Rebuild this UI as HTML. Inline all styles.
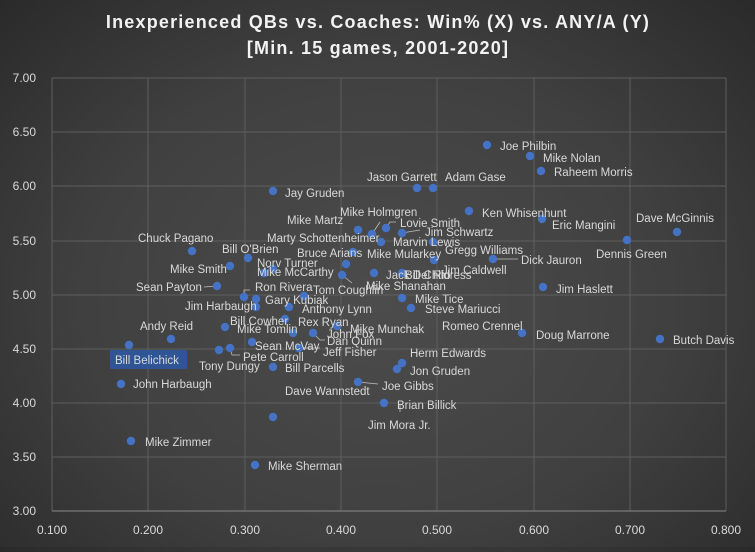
<!DOCTYPE html>
<html><head><meta charset="utf-8"><style>
html,body{margin:0;padding:0;}
body{width:755px;height:547px;overflow:hidden;background:radial-gradient(ellipse at 50% 55%,#4c4c4c 0%,#404040 55%,#2a2a2a 100%);font-family:"Liberation Sans",sans-serif;}
svg text{font-family:"Liberation Sans",sans-serif;}
</style></head><body>
<svg width="755" height="547" xmlns="http://www.w3.org/2000/svg">
<g fill="#f2f2f2" font-weight="bold" font-size="18" text-anchor="middle" letter-spacing="1.2">
<text x="378" y="28">Inexperienced QBs vs. Coaches: Win% (X) vs. ANY/A (Y)</text>
<text x="378" y="54">[Min. 15 games, 2001-2020]</text>
</g>
<g stroke="#5e5e5e" stroke-width="1">
<line x1="52" y1="78" x2="726" y2="78"/><line x1="52" y1="132" x2="726" y2="132"/><line x1="52" y1="186" x2="726" y2="186"/><line x1="52" y1="241" x2="726" y2="241"/><line x1="52" y1="295" x2="726" y2="295"/><line x1="52" y1="349" x2="726" y2="349"/><line x1="52" y1="403" x2="726" y2="403"/><line x1="52" y1="457" x2="726" y2="457"/>
<line x1="52" y1="78" x2="52" y2="511"/><line x1="148" y1="78" x2="148" y2="511"/><line x1="245" y1="78" x2="245" y2="511"/><line x1="341" y1="78" x2="341" y2="511"/><line x1="437" y1="78" x2="437" y2="511"/><line x1="534" y1="78" x2="534" y2="511"/><line x1="630" y1="78" x2="630" y2="511"/><line x1="726" y1="78" x2="726" y2="511"/>
</g>
<line x1="52" y1="511" x2="726" y2="511" stroke="#8a8a8a"/>
<g fill="#d9d9d9" font-size="12">
<g text-anchor="end"><text x="36" y="82">7.00</text><text x="36" y="136">6.50</text><text x="36" y="190">6.00</text><text x="36" y="245">5.50</text><text x="36" y="299">5.00</text><text x="36" y="353">4.50</text><text x="36" y="407">4.00</text><text x="36" y="461">3.50</text><text x="36" y="515">3.00</text></g>
<g text-anchor="middle"><text x="52" y="534">0.100</text><text x="148" y="534">0.200</text><text x="245" y="534">0.300</text><text x="341" y="534">0.400</text><text x="437" y="534">0.500</text><text x="534" y="534">0.600</text><text x="630" y="534">0.700</text><text x="726" y="534">0.800</text></g>
</g>
<g stroke="#bfbfbf" stroke-width="0.8" fill="none">
<polyline points="204,287 217,286"/><polyline points="244,297 244,290 250,290"/><polyline points="230,348 232,355 240,355"/><polyline points="313,333 320,340 325,340"/><polyline points="299,348 320,348"/><polyline points="342,275 352,283"/><polyline points="372,234 380,222"/><polyline points="386,228 390,222 396,222"/><polyline points="402,233 420,230"/><polyline points="493,259 518,259"/><polyline points="358,382 378,384"/><polyline points="400,404 400,412"/>
</g>
<g fill="#4472c4">
<circle cx="129" cy="345" r="4.2"/><circle cx="121" cy="384" r="4.2"/><circle cx="131" cy="441" r="4.2"/><circle cx="171" cy="339" r="4.2"/><circle cx="192" cy="251" r="4.2"/><circle cx="230" cy="266" r="4.2"/><circle cx="217" cy="286" r="4.2"/><circle cx="248" cy="258" r="4.2"/><circle cx="273" cy="191" r="4.2"/><circle cx="273" cy="269" r="4.2"/><circle cx="264" cy="273" r="4.2"/><circle cx="244" cy="297" r="4.2"/><circle cx="256" cy="299" r="4.2"/><circle cx="256" cy="307" r="4.2"/><circle cx="289" cy="307" r="4.2"/><circle cx="304" cy="296" r="4.2"/><circle cx="225" cy="327" r="4.2"/><circle cx="293" cy="333" r="4.2"/><circle cx="285" cy="319" r="4.2"/><circle cx="337" cy="326" r="4.2"/><circle cx="313" cy="333" r="4.2"/><circle cx="252" cy="342" r="4.2"/><circle cx="299" cy="348" r="4.2"/><circle cx="219" cy="350" r="4.2"/><circle cx="230" cy="348" r="4.2"/><circle cx="273" cy="367" r="4.2"/><circle cx="273" cy="417" r="4.2"/><circle cx="255" cy="465" r="4.2"/><circle cx="358" cy="230" r="4.2"/><circle cx="386" cy="228" r="4.2"/><circle cx="372" cy="234" r="4.2"/><circle cx="381" cy="242" r="4.2"/><circle cx="402" cy="233" r="4.2"/><circle cx="433" cy="242" r="4.2"/><circle cx="353" cy="252" r="4.2"/><circle cx="434" cy="260" r="4.2"/><circle cx="346" cy="264" r="4.2"/><circle cx="342" cy="275" r="4.2"/><circle cx="374" cy="273" r="4.2"/><circle cx="402" cy="273" r="4.2"/><circle cx="493" cy="259" r="4.2"/><circle cx="469" cy="211" r="4.2"/><circle cx="542" cy="219" r="4.2"/><circle cx="487" cy="145" r="4.2"/><circle cx="530" cy="156" r="4.2"/><circle cx="541" cy="171" r="4.2"/><circle cx="417" cy="188" r="4.2"/><circle cx="433" cy="188" r="4.2"/><circle cx="677" cy="232" r="4.2"/><circle cx="627" cy="240" r="4.2"/><circle cx="543" cy="287" r="4.2"/><circle cx="402" cy="298" r="4.2"/><circle cx="411" cy="308" r="4.2"/><circle cx="522" cy="333" r="4.2"/><circle cx="660" cy="339" r="4.2"/><circle cx="402" cy="363" r="4.2"/><circle cx="397" cy="369" r="4.2"/><circle cx="358" cy="382" r="4.2"/><circle cx="384" cy="403" r="4.2"/>
</g>
<rect x="110" y="350" width="77" height="19" fill="#2f5597"/>
<g fill="#d9d9d9" font-size="11.5">
<text x="115" y="364">Bill Belichick</text>
<text x="133" y="388">John Harbaugh</text>
<text x="145" y="446">Mike Zimmer</text>
<text x="140" y="330">Andy Reid</text>
<text x="138" y="242">Chuck Pagano</text>
<text x="170" y="273">Mike Smith</text>
<text x="136" y="291">Sean Payton</text>
<text x="222" y="253">Bill O'Brien</text>
<text x="285" y="197">Jay Gruden</text>
<text x="257" y="267">Norv Turner</text>
<text x="257" y="276">Mike McCarthy</text>
<text x="255" y="291">Ron Rivera</text>
<text x="185" y="310">Jim Harbaugh</text>
<text x="265" y="304">Gary Kubiak</text>
<text x="302" y="313">Anthony Lynn</text>
<text x="230" y="325">Bill Cowher</text>
<text x="237" y="333">Mike Tomlin</text>
<text x="298" y="326">Rex Ryan</text>
<text x="350" y="333">Mike Munchak</text>
<text x="327" y="338">John Fox</text>
<text x="327" y="345">Dan Quinn</text>
<text x="255" y="350">Sean McVay</text>
<text x="323" y="356">Jeff Fisher</text>
<text x="199" y="370">Tony Dungy</text>
<text x="243" y="361">Pete Carroll</text>
<text x="285" y="372">Bill Parcells</text>
<text x="285" y="395">Dave Wannstedt</text>
<text x="268" y="470">Mike Sherman</text>
<text x="287" y="224">Mike Martz</text>
<text x="340" y="216">Mike Holmgren</text>
<text x="400" y="227">Lovie Smith</text>
<text x="425" y="236">Jim Schwartz</text>
<text x="267" y="242">Marty Schottenheimer</text>
<text x="393" y="246">Marvin Lewis</text>
<text x="297" y="257">Bruce Arians</text>
<text x="367" y="258">Mike Mularkey</text>
<text x="445" y="254">Gregg Williams</text>
<text x="386" y="279">Jack Del Rio</text>
<text x="405" y="279">Bill Childress</text>
<text x="442" y="274">Jim Caldwell</text>
<text x="521" y="264">Dick Jauron</text>
<text x="313" y="294">Tom Coughlin</text>
<text x="366" y="290">Mike Shanahan</text>
<text x="415" y="303">Mike Tice</text>
<text x="425" y="313">Steve Mariucci</text>
<text x="482" y="217">Ken Whisenhunt</text>
<text x="552" y="229">Eric Mangini</text>
<text x="500" y="150">Joe Philbin</text>
<text x="543" y="162">Mike Nolan</text>
<text x="554" y="176">Raheem Morris</text>
<text x="367" y="181">Jason Garrett</text>
<text x="445" y="181">Adam Gase</text>
<text x="636" y="222">Dave McGinnis</text>
<text x="596" y="258">Dennis Green</text>
<text x="556" y="293">Jim Haslett</text>
<text x="442" y="330">Romeo Crennel</text>
<text x="536" y="339">Doug Marrone</text>
<text x="673" y="344">Butch Davis</text>
<text x="410" y="357">Herm Edwards</text>
<text x="410" y="375">Jon Gruden</text>
<text x="382" y="390">Joe Gibbs</text>
<text x="397" y="409">Brian Billick</text>
<text x="368" y="429">Jim Mora Jr.</text>
</g>
</svg>
</body></html>
